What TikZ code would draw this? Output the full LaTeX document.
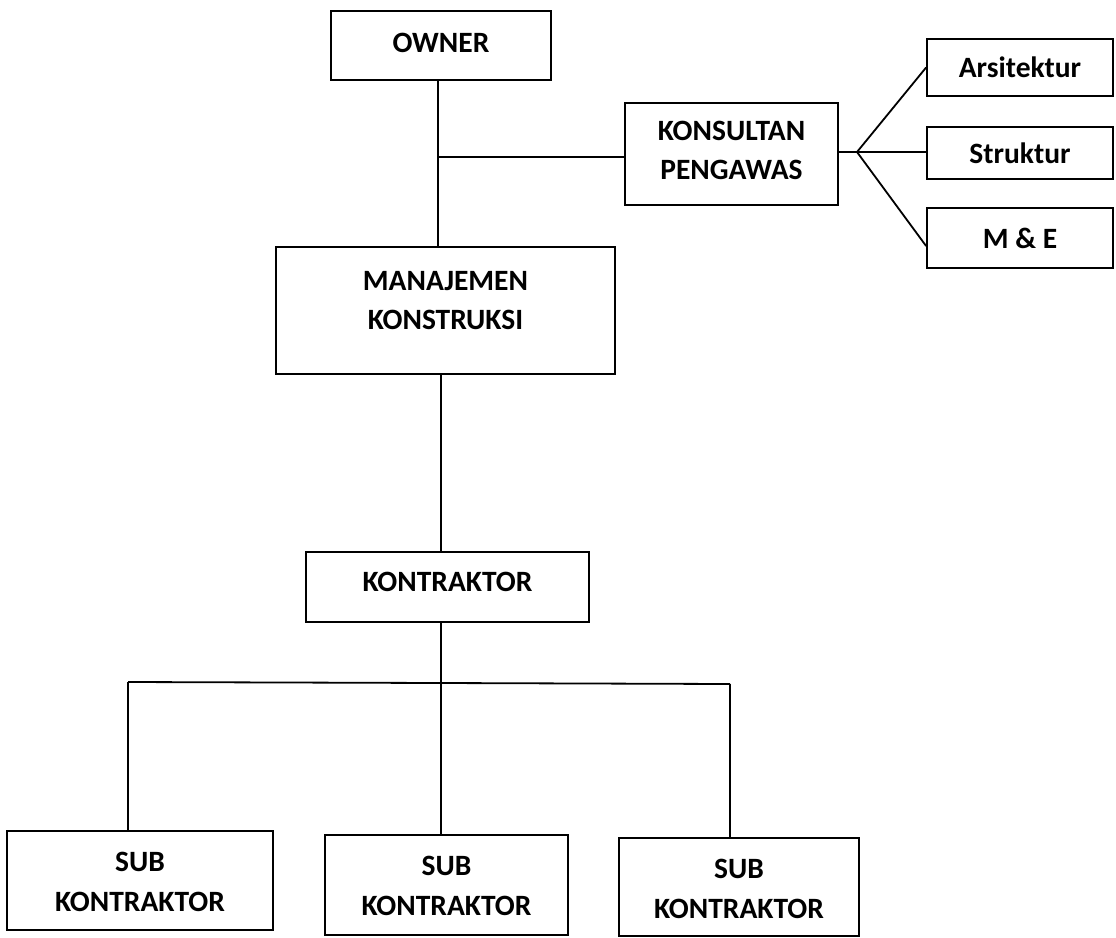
\documentclass[tikz,border=0pt]{standalone}
\usepackage{fontspec}
\setmainfont{Carlito}
\begin{document}
\begin{tikzpicture}[x=1pt,y=-1pt,
  box/.style={draw=black,line width=1.8pt,rectangle,inner sep=0pt,align=center,
    font=\bfseries\fontsize{29.5}{39}\selectfont},
  txt/.style={inner sep=0pt,align=center,font=\bfseries\fontsize{29.5}{39}\selectfont},
  conn/.style={draw=black,line width=1.8pt}]
\useasboundingbox (0,0) rectangle (1116,937);
\fill[white] (0,0) rectangle (1116,937);
% boxes
\node[box,minimum width=220pt,minimum height=69pt] (owner) at (441,45.5) {};
\node[txt] (ownert) at (441,43) {OWNER};
\node[box,minimum width=213pt,minimum height=102pt] (kp) at (731.5,154) {};
\node[txt] (kpt) at (731.5,150) {KONSULTAN\\PENGAWAS};
\node[box,minimum width=186pt,minimum height=57pt] (ars) at (1020,67.5) {Arsitektur};
\node[box,minimum width=186pt,minimum height=52pt] (str) at (1020,153) {Struktur};
\node[box,minimum width=186pt,minimum height=60pt] (me) at (1020,238) {M \& E};
\node[box,minimum width=339pt,minimum height=127pt] (mk) at (445.5,310.5) {};
\node[txt] (mkt) at (445.5,301) {MANAJEMEN\\KONSTRUKSI};
\node[box,minimum width=283pt,minimum height=70pt] (kon) at (447.5,587) {};
\node[txt] (kont) at (447.5,582) {KONTRAKTOR};
\node[box,minimum width=266pt,minimum height=99pt] (s1) at (140,880.5) {};
\node[txt,font=\bfseries\fontsize{29.5}{40}\selectfont] (s1t) at (140,882) {SUB\\KONTRAKTOR};
\node[box,minimum width=243pt,minimum height=100pt] (s2) at (446.5,885) {};
\node[txt,font=\bfseries\fontsize{29.5}{40}\selectfont] (s2t) at (446.5,886) {SUB\\KONTRAKTOR};
\node[box,minimum width=240pt,minimum height=98pt] (s3) at (739,887) {};
\node[txt,font=\bfseries\fontsize{29.5}{40}\selectfont] (s3t) at (739,889) {SUB\\KONTRAKTOR};
% junction coordinates
\coordinate (j1) at (438,157);
\coordinate (fan) at (857,152);
\coordinate (bL) at (128,682);
\coordinate (bM) at (441,683);
\coordinate (bR) at (730,684);
% connectors
\draw[conn] (j1 |- owner.south) -- (j1 |- mk.north);
\draw[conn] (j1) -- (kp.west |- j1);
\draw[conn] (kp.east |- fan) -- (fan);
\draw[conn] (fan) -- (ars.west);
\draw[conn] (fan) -- (str.west |- fan);
\draw[conn] (fan) -- ([yshift=-8pt]me.west);
\draw[conn] (bM |- mk.south) -- (bM |- kon.north);
\draw[conn] (bM |- kon.south) -- (bM);
\draw[conn] (bL) -- (bM) -- (bR);
\draw[conn] (bL) -- (bL |- s1.north);
\draw[conn] (bM) -- (bM |- s2.north);
\draw[conn] (bR) -- (bR |- s3.north);
\end{tikzpicture}
\end{document}
